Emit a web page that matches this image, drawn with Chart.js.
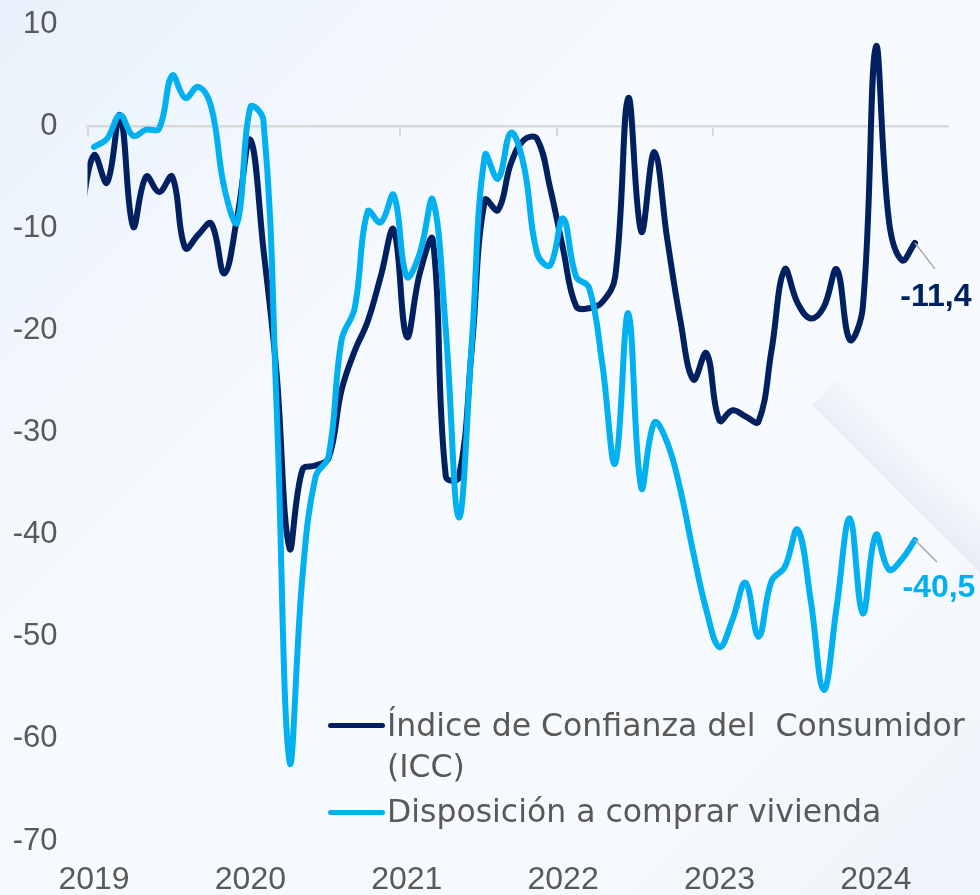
<!DOCTYPE html>
<html>
<head>
<meta charset="utf-8">
<script src="https://cdn.jsdelivr.net/npm/chart.js@4.4.1/dist/chart.umd.min.js"></script>
<style>
  html, body { margin: 0; padding: 0; }
  body {
    width: 980px; height: 895px; overflow: hidden;
    background: linear-gradient(135deg, #e8f1fb 0%, #f2f7fd 22%, #f8fbfe 48%, #f7fafd 75%, #eef4fb 100%);
  }
  #wrap { position: relative; width: 980px; height: 895px; }
  #deco { position: absolute; left: 0; top: 0; }
  #c { position: absolute; left: 0; top: 0; }
  .lg-line { position: absolute; left: 328px; width: 57px; height: 5.5px; border-radius: 3px; }
  .lg-text { position: absolute; left: 387px; font-family: "DejaVu Sans", sans-serif; font-size: 31.5px;
             line-height: 41px; color: #595959; white-space: pre; }
</style>
</head>
<body>
<div id="wrap">
  <svg id="deco" width="980" height="895" xmlns="http://www.w3.org/2000/svg">
    <defs>
      <linearGradient id="fold" gradientUnits="userSpaceOnUse" x1="896" y1="489" x2="930" y2="455">
        <stop offset="0" stop-color="#c8cde4" stop-opacity="0.28"/>
        <stop offset="1" stop-color="#c8cde4" stop-opacity="0"/>
      </linearGradient>
    </defs>
    <polygon points="812,405 980,237 980,573" fill="url(#fold)"/>
  </svg>
  <canvas id="c" width="980" height="895"></canvas>
  <div id="legend"></div>
</div>
<script>
// ---- data (monthly, Dec 2018 .. Apr 2024) ----
const firstYear = 2018, firstMonth = 12;
const years = ['2019', '2020', '2021', '2022', '2023', '2024'];
const seriesNames = [['Índice de Confianza del  Consumidor', '(ICC)'], ['Disposición a comprar vivienda']];

const icc = [
  -8.5,
  -2.8, -5.5, 1.1, -9.8, -4.9, -6.4, -4.9, -11.9, -10.6, -9.5, -14.4, -8.8,
  -1.3, -12.0, -24.0, -41.3, -33.6, -33.2, -32.5, -25.8, -22.0, -19.1, -14.7, -10.1,
  -20.6, -14.4, -11.1, -34.3, -34.4, -21.6, -7.2, -8.2, -3.6, -1.3, -1.2, -6.0,
  -12.0, -17.6, -17.8, -17.2, -14.7, 2.8, -10.3, -2.5, -11.1, -19.0, -24.8, -22.2,
  -28.8, -27.8, -28.4, -28.9, -21.9, -14.0, -17.3, -18.8, -17.7, -14.0, -20.9, -17.7,
  7.8, -9.2, -13.1, -11.4
];
const vivienda = [
  null,
  -2.0, -1.2, 1.1, -0.9, -0.3, -0.2, 5.0, 2.8, 3.9, 1.9, -6.0, -9.4,
  1.9, 0.6, -27.0, -62.2, -44.0, -34.3, -32.3, -20.9, -17.8, -8.3, -9.4, -6.7,
  -14.7, -12.4, -7.2, -20.0, -38.3, -21.0, -2.8, -5.1, -0.6, -3.9, -12.4, -13.6,
  -9.0, -14.7, -15.8, -23.2, -33.0, -18.3, -35.4, -29.0, -31.0, -35.6, -41.8, -47.4,
  -51.0, -48.3, -44.7, -50.0, -44.5, -43.2, -39.5, -46.4, -55.2, -47.0, -38.4, -47.7,
  -40.0, -43.4, -42.4, -40.5
];
const yTicks = [-70, -60, -50, -40, -30, -20, -10, 0, 10];

// month offset from Jan 2019 for every period
const periods = icc.map((_, i) => {
  const m0 = (firstYear * 12 + firstMonth - 1) + i;
  return { year: Math.floor(m0 / 12), month: (m0 % 12) + 1 };
});
const xOf = p => (p.year - 2019) * 12 + (p.month - 1);

const NAVY = '#002060', LIGHT = '#00B0F0', GREY = '#595959';
const toPoints = arr => arr.map((v, i) => ({ x: xOf(periods[i]), y: v }));

const endLabels = {
  id: 'endLabels',
  afterDatasetsDraw(chart, args, opts) {
    const ctx = chart.ctx;
    chart.data.datasets.forEach((ds, i) => {
      const meta = chart.getDatasetMeta(i);
      const pt = meta.data[meta.data.length - 1];
      const val = ds.data[ds.data.length - 1].y;
      const o = opts.offsets[i];
      ctx.save();
      ctx.strokeStyle = '#a6a6a6';
      ctx.lineWidth = 1.5;
      ctx.beginPath();
      ctx.moveTo(pt.x, pt.y);
      ctx.lineTo(pt.x + o.lx, pt.y + o.ly);
      ctx.stroke();
      ctx.font = 'bold 32px "Liberation Sans", Arial, sans-serif';
      ctx.fillStyle = ds.borderColor;
      ctx.textAlign = 'center';
      ctx.textBaseline = 'alphabetic';
      ctx.fillText(val.toFixed(1).replace('.', ','), pt.x + o.tx, pt.y + o.ty);
      ctx.restore();
    });
  }
};

const tickFont = { family: '"Liberation Sans", Arial, sans-serif', size: 31 };

const chart = new Chart(document.getElementById('c'), {
  type: 'line',
  data: {
    datasets: [
      { label: seriesNames[0], data: toPoints(icc), borderColor: NAVY, backgroundColor: NAVY,
        borderWidth: 6, order: 2 },
      { label: seriesNames[1], data: toPoints(vivienda), borderColor: LIGHT, backgroundColor: LIGHT,
        borderWidth: 6, order: 1 }
    ]
  },
  options: {
    responsive: false,
    animation: false,
    devicePixelRatio: 1,
    layout: { padding: { left: 0, right: 32.5, top: 24.5, bottom: 0 } },
    elements: {
      point: { radius: 0, hoverRadius: 0 },
      line: { tension: 0.4, borderCapStyle: 'round', borderJoinStyle: 'round' }
    },
    datasets: { line: { clip: { left: 0, top: false, right: false, bottom: false } } },
    plugins: {
      legend: { display: false },
      tooltip: { enabled: false },
      endLabels: { offsets: [ { lx: 20, ly: 26, tx: 21, ty: 63 }, { lx: 22, ly: 22, tx: 24, ty: 57 } ] }
    },
    scales: {
      x: {
        type: 'linear', position: 'bottom', min: -0.5, max: 65.5,
        grid: { display: false, drawTicks: false },
        border: { display: false },
        afterBuildTicks: s => { s.ticks = years.map((y, i) => ({ value: i * 12 })); },
        afterFit: s => { s.height = 54; },
        ticks: { autoSkip: false, maxRotation: 0, padding: 20, color: GREY, font: { ...tickFont, size: 32 },
                 callback: v => years[Math.round(v / 12)] }
      },
      x2: {
        type: 'linear', position: { y: 0 }, min: -0.5, max: 65.5,
        grid: { drawOnChartArea: false, drawTicks: true, tickLength: 9, color: '#d9d9d9', lineWidth: 2 },
        border: { display: true, color: '#d9d9d9', width: 2.5 },
        afterBuildTicks: s => { s.ticks = years.map((y, i) => ({ value: i * 12 - 0.5 })); },
        ticks: { display: false }
      },
      y: {
        min: -70, max: 10,
        grid: { display: false, drawTicks: false },
        border: { display: false },
        afterBuildTicks: s => { s.ticks = yTicks.map(v => ({ value: v })); },
        afterFit: s => { s.width = 87.5; s.paddingTop = 0; s.paddingBottom = 0; },
        ticks: { padding: 30, color: GREY, font: tickFont }
      }
    }
  },
  plugins: [endLabels]
});

// legend (HTML), built from the datasets
const legendEl = document.getElementById('legend');
const legendTops = [{ line: 722.5, text: 704.5 }, { line: 809.5, text: 790.5 }];
chart.data.datasets.forEach((ds, i) => {
  const line = document.createElement('div');
  line.className = 'lg-line';
  line.style.top = legendTops[i].line + 'px';
  line.style.background = ds.borderColor;
  const txt = document.createElement('div');
  txt.className = 'lg-text';
  txt.style.top = legendTops[i].text + 'px';
  txt.textContent = [].concat(ds.label).join('\n');
  legendEl.appendChild(line);
  legendEl.appendChild(txt);
});
</script>
</body>
</html>
